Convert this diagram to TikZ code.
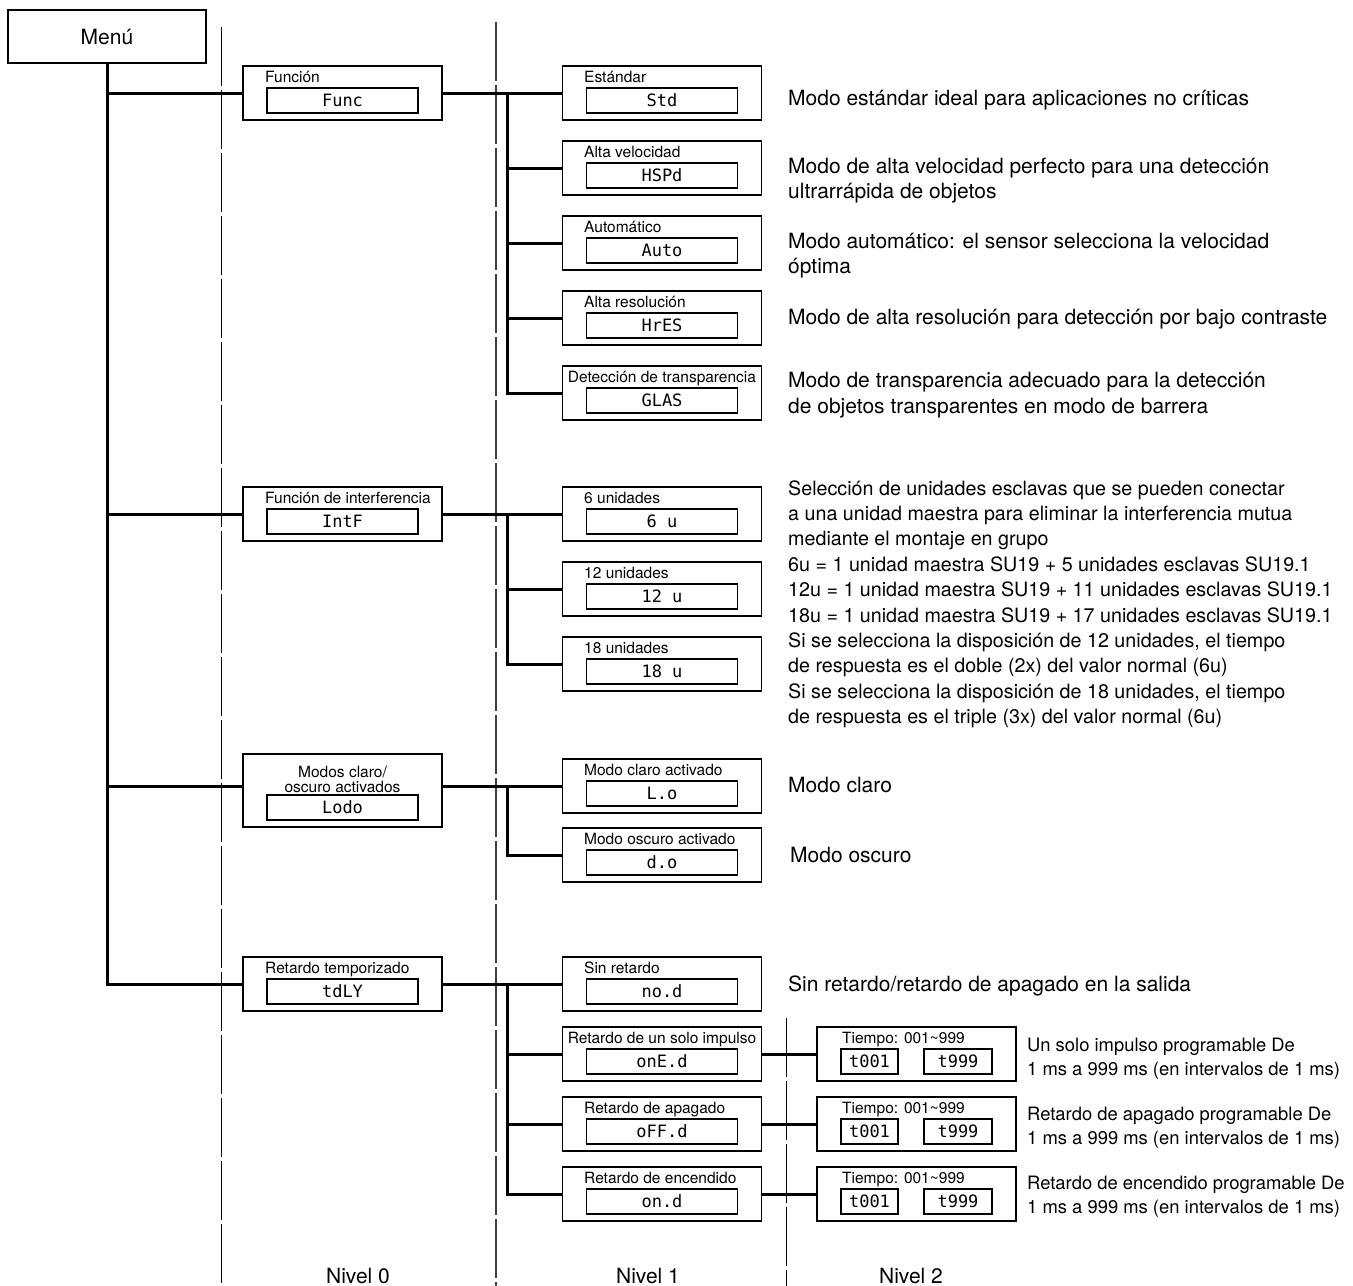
\documentclass[tikz,border=0pt]{standalone}
\usepackage{fontspec}
\setmainfont{TeX Gyre Heros}
\newfontfamily\segfont{DejaVu Sans Mono}
\usetikzlibrary{calc,positioning}

\begin{document}
\begin{tikzpicture}[x=1pt,y=-1pt,
		big/.style={font=\fontsize{21}{25.4}\selectfont},
		txt/.style={big,anchor=base west,inner sep=0,align=left},
		lbl/.style={font=\fontsize{15.5}{15}\selectfont,anchor=base west,inner sep=0},
		box/.style={draw,line width=1.3pt,minimum width=199pt,minimum height=54pt,inner sep=0},
		disp/.style={draw,line width=1.3pt,minimum width=151pt,minimum height=25pt,inner sep=0,font=\segfont\fontsize{17}{17}\selectfont},
		conn/.style={line width=3pt},
		level/.style={line width=1pt,dash pattern=on 59pt off 4pt}]
		\useasboundingbox (0,0) rectangle (1353,1286);
		% level separators
		\draw [level](221,27) -- (221,1286);
		\draw [level,line width=1.8pt,black!75](496,22) -- (496,1286);
		\draw [level](786,1018) -- (786,1286);
		\node[big,anchor=base] at (358,1283) {Nivel 0};
		\node[big,anchor=base] at (648,1283) {Nivel 1};
		\node[big,anchor=base] at (911,1283) {Nivel 2};
		% menu
		\node[draw,line width=1.3pt,minimum width=198pt,minimum height=53pt,big] (menu) at (107,36.5) {Menú};
		% level 0
		\node[box] (func) at (342.5,93) {};
		\node[disp] at (342.5,100.5) {Func};
		\node[lbl] at (265,82) {Función};
		\node[box] (intf) at (342.5,514) {};
		\node[disp] at (342.5,521.5) {IntF};
		\node[lbl] at (265,503) {Función de interferencia};
		\node[box,minimum height=73pt] (lodo) at (342.5,790.5) {};
		\node[disp] at (342.5,807.5) {Lodo};
		\node[lbl,anchor=base,align=center] at (342.5,792) {Modos claro/\\oscuro activados};
		\node[box] (tdly) at (342.5,984) {};
		\node[disp] at (342.5,991.5) {tdLY};
		\node[lbl] at (265,973) {Retardo temporizado};
		% level 1
		\node[box] (std) at (662,93) {};
		\node[disp] at (662,100.5) {Std};
		\node[lbl] at (584,82) {Estándar};
		\node[box] (hspd) at (662,168) {};
		\node[disp] at (662,175.5) {HSPd};
		\node[lbl] at (584,157) {Alta velocidad};
		\node[box] (auto) at (662,243) {};
		\node[disp] at (662,250.5) {Auto};
		\node[lbl] at (584,232) {Automático};
		\node[box] (hres) at (662,318) {};
		\node[disp] at (662,325.5) {HrES};
		\node[lbl] at (584,307) {Alta resolución};
		\node[box] (glas) at (662,393) {};
		\node[disp] at (662,400.5) {GLAS};
		\node[lbl,anchor=base] at (662,382) {Detección de transparencia};
		\node[box] (u6) at (662,514) {};
		\node[disp] at (662,521.5) {6 u};
		\node[lbl] at (584,503) {6 unidades};
		\node[box] (u12) at (662,589) {};
		\node[disp] at (662,596.5) {12 u};
		\node[lbl] at (584,578) {12 unidades};
		\node[box] (u18) at (662,664) {};
		\node[disp] at (662,671.5) {18 u};
		\node[lbl] at (584,653) {18 unidades};
		\node[box] (lo) at (662,786) {};
		\node[disp] at (662,793.5) {L.o};
		\node[lbl] at (584,775) {Modo claro activado};
		\node[box] (do) at (662,855) {};
		\node[disp] at (662,862.5) {d.o};
		\node[lbl] at (584,844) {Modo oscuro activado};
		\node[box] (nod) at (662,984) {};
		\node[disp] at (662,991.5) {no.d};
		\node[lbl] at (584,973) {Sin retardo};
		\node[box] (oned) at (662,1054) {};
		\node[disp] at (662,1061.5) {onE.d};
		\node[lbl,anchor=base] at (662,1043) {Retardo de un solo impulso};
		\node[box] (offd) at (662,1124) {};
		\node[disp] at (662,1131.5) {oFF.d};
		\node[lbl] at (584,1113) {Retardo de apagado};
		\node[box] (ond) at (662,1194) {};
		\node[disp] at (662,1201.5) {on.d};
		\node[lbl] at (584,1183) {Retardo de encendido};
		% level 2
		\node[box] (tone) at (916.5,1054) {};
		\node[lbl] at (842,1043) {Tiempo: 001\textasciitilde999};
		\node[disp,minimum width=57pt] at (869.5,1061.5) {t001};
		\node[disp,minimum width=68pt] at (958,1061.5) {t999};
		\node[box] (toff) at (916.5,1124) {};
		\node[lbl] at (842,1113) {Tiempo: 001\textasciitilde999};
		\node[disp,minimum width=57pt] at (869.5,1131.5) {t001};
		\node[disp,minimum width=68pt] at (958,1131.5) {t999};
		\node[box] (ton) at (916.5,1194) {};
		\node[lbl] at (842,1183) {Tiempo: 001\textasciitilde999};
		\node[disp,minimum width=57pt] at (869.5,1201.5) {t001};
		\node[disp,minimum width=68pt] at (958,1201.5) {t999};
		% connectors
		\draw [conn](menu.south) |- (tdly.west);
		\draw [conn](menu.south |- func.west) -- (func.west);
		\draw [conn](menu.south |- intf.west) -- (intf.west);
		\draw [conn](menu.south |- lo.west) -- (lodo.west |- lo.west);
		\coordinate (j) at (507,0);
		\draw [conn](func.east) -- (std.west);
		\draw [conn](j |- std.west) |- (glas.west);
		\draw [conn](j |- hspd.west) -- (hspd.west);
		\draw [conn](j |- auto.west) -- (auto.west);
		\draw [conn](j |- hres.west) -- (hres.west);
		\draw [conn](intf.east) -- (u6.west);
		\draw [conn](j |- u6.west) |- (u18.west);
		\draw [conn](j |- u12.west) -- (u12.west);
		\draw [conn](lodo.east |- lo.west) -- (lo.west);
		\draw [conn](j |- lo.west) |- (do.west);
		\draw [conn](tdly.east) -- (nod.west);
		\draw [conn](j |- nod.west) |- (ond.west);
		\draw [conn](j |- oned.west) -- (oned.west);
		\draw [conn](j |- offd.west) -- (offd.west);
		\draw [conn](oned.east) -- (tone.west);
		\draw [conn](offd.east) -- (toff.west);
		\draw [conn](ond.east) -- (ton.west);
		% descriptions (anchored at the baseline of the last line)
		\node[txt] at (788,105) {Modo estándar ideal para aplicaciones no críticas};
		\node[txt] at (788,198.4) {Modo de alta velocidad perfecto para una detección\\ultrarrápida de objetos};
		\node[txt] at (788,273.4) {Modo automático: el sensor selecciona la velocidad\\óptima};
		\node[txt] at (788,324) {Modo de alta resolución para detección por bajo contraste};
		\node[txt] at (788,413) {Modo de transparencia adecuado para la detección\\de objetos transparentes en modo de barrera};
		\node[txt,font=\fontsize{19.7}{25.4}\selectfont] at (788,723.6) {Selección de unidades esclavas que se pueden conectar\\a una unidad maestra para eliminar la interferencia mutua\\mediante el montaje en grupo\\6u = 1 unidad maestra SU19 + 5 unidades esclavas SU19.1\\12u = 1 unidad maestra SU19 + 11 unidades esclavas SU19.1\\18u = 1 unidad maestra SU19 + 17 unidades esclavas SU19.1\\Si se selecciona la disposición de 12 unidades, el tiempo\\de respuesta es el doble (2x) del valor normal (6u)\\Si se selecciona la disposición de 18 unidades, el tiempo\\de respuesta es el triple (3x) del valor normal (6u)};
		\node[txt] at (788,792) {Modo claro};
		\node[txt] at (790,862) {Modo oscuro};
		\node[txt] at (788,991) {Sin retardo/retardo de apagado en la salida};
		\node[txt,font=\fontsize{18.4}{24.4}\selectfont] at (1027,1075.4) {Un solo impulso programable De\\1 ms a 999 ms (en intervalos de 1 ms)};
		\node[txt,font=\fontsize{18.4}{24.4}\selectfont] at (1027,1144.4) {Retardo de apagado programable De\\1 ms a 999 ms (en intervalos de 1 ms)};
		\node[txt,font=\fontsize{18.4}{24.4}\selectfont] at (1027,1213.4) {Retardo de encendido programable De\\1 ms a 999 ms (en intervalos de 1 ms)};
	\end{tikzpicture}
\end{document}
